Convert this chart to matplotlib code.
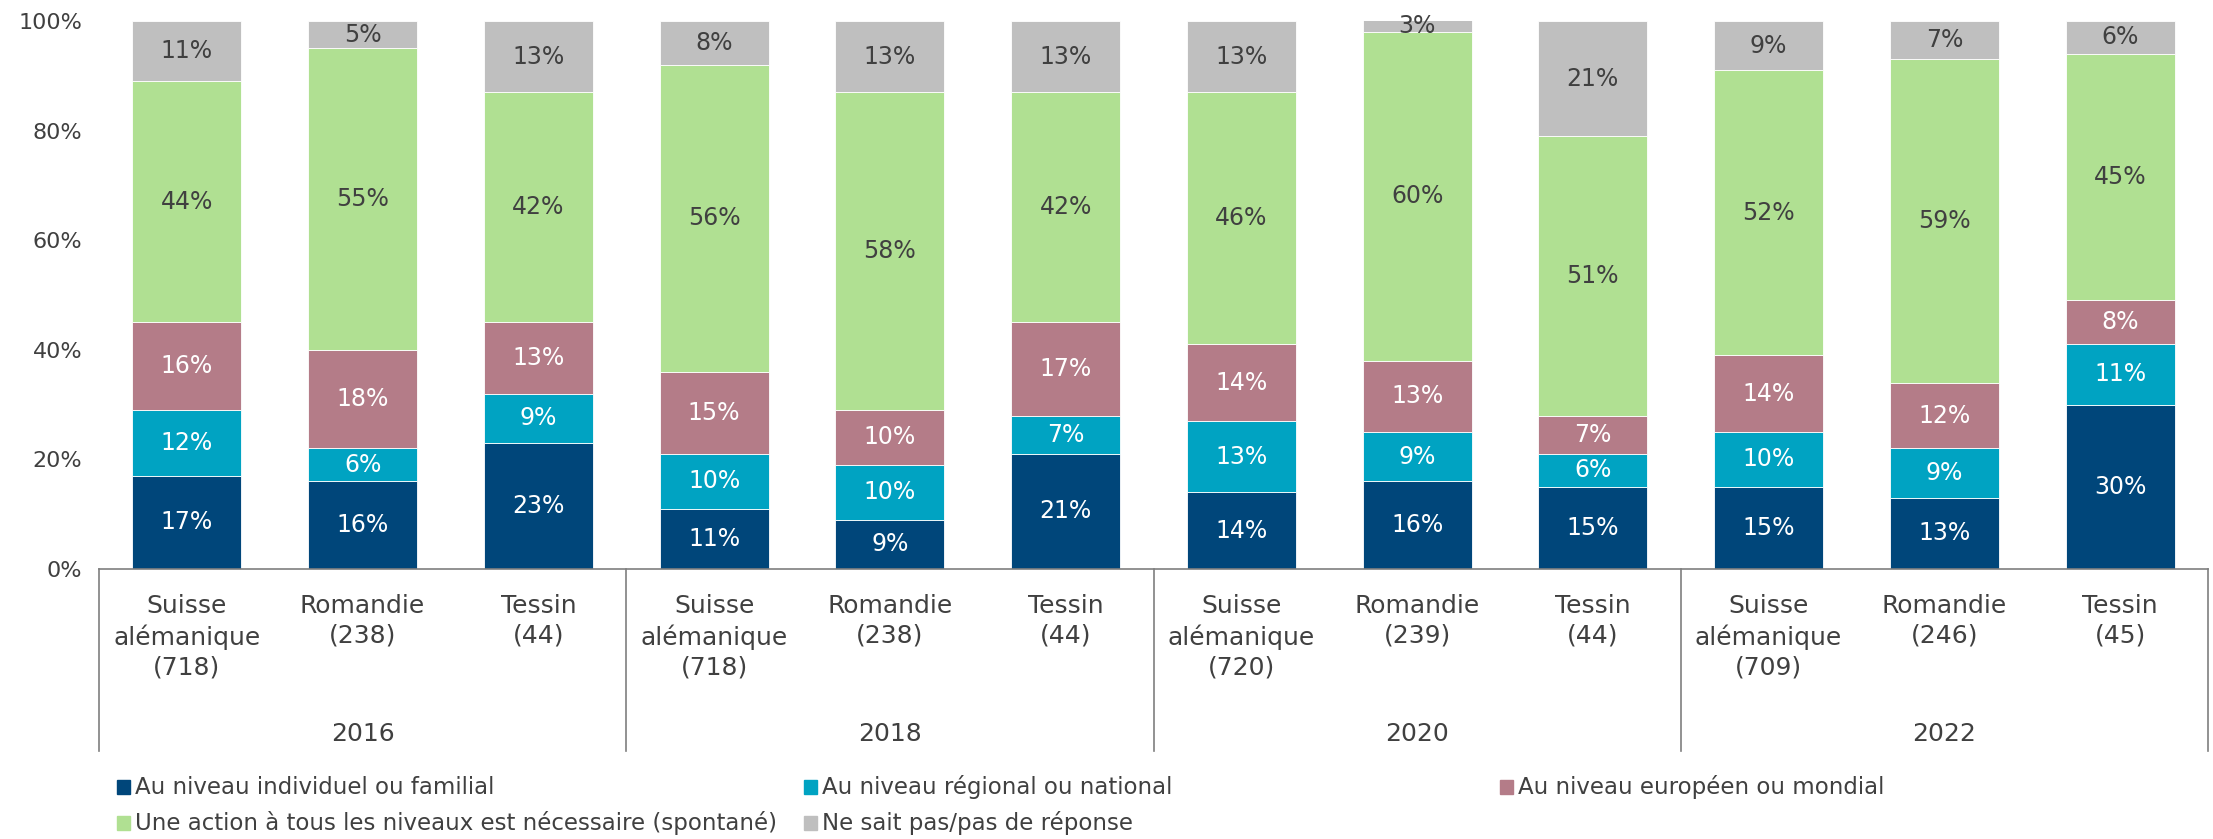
import numpy as np
import matplotlib.pyplot as plt
from matplotlib.patches import Rectangle
from matplotlib.transforms import blended_transform_factory

# catégories (région + n) et années
regions = ["Suisse\nalémanique\n(718)", "Romandie\n(238)", "Tessin\n(44)",
           "Suisse\nalémanique\n(718)", "Romandie\n(238)", "Tessin\n(44)",
           "Suisse\nalémanique\n(720)", "Romandie\n(239)", "Tessin\n(44)",
           "Suisse\nalémanique\n(709)", "Romandie\n(246)", "Tessin\n(45)"]
years = ["2016", "2018", "2020", "2022"]

# séries en %
individuel = [17, 16, 23, 11, 9, 21, 14, 16, 15, 15, 13, 30]
regional = [12, 6, 9, 10, 10, 7, 13, 9, 6, 10, 9, 11]
europeen = [16, 18, 13, 15, 10, 17, 14, 13, 7, 14, 12, 8]
tous_niveaux = [44, 55, 42, 56, 58, 42, 46, 60, 51, 52, 59, 45]
ne_sait_pas = [11, 5, 13, 8, 13, 13, 13, 3, 21, 9, 7, 6]

series = [individuel, regional, europeen, tous_niveaux, ne_sait_pas]
noms = ["Au niveau individuel ou familial",
        "Au niveau régional ou national",
        "Au niveau européen ou mondial",
        "Une action à tous les niveaux est nécessaire (spontané)",
        "Ne sait pas/pas de réponse"]
couleurs = ["#00467A", "#00A3C2", "#B47C88", "#B0E092", "#BFBFBF"]
couleurs_txt = ["white", "white", "white", "#404040", "#404040"]

gris = "#404040"
plt.rcParams['font.family'] = ['DejaVu Sans']

fig = plt.figure(figsize=(22.13, 8.39), dpi=100)
ax = fig.add_axes([99/2213, 1 - 569/839, (2208 - 99)/2213, (569 - 21)/839])

x = np.arange(len(regions))
bas = np.zeros(len(regions))
for vals, nom, c, ct in zip(series, noms, couleurs, couleurs_txt):
    bars = ax.bar(x, vals, 0.62, bottom=bas, color=c, edgecolor="white",
                  linewidth=0.6, label=nom)
    ax.bar_label(bars, labels=[f"{v}%" for v in vals], label_type="center",
                 color=ct, fontsize=17)
    bas += np.array(vals)

ax.set_xlim(-0.5, len(regions) - 0.5)
ax.set_ylim(0, 100)
ax.set_yticks(range(0, 101, 20))
ax.set_yticklabels([f"{v}%" for v in range(0, 101, 20)], fontsize=16, color=gris)
ax.tick_params(axis="y", length=0, pad=12)
ax.set_xticks([])
for s in ["top", "right", "left"]:
    ax.spines[s].set_visible(False)
ax.spines["bottom"].set_color("#7F7F7F")
ax.spines["bottom"].set_linewidth(1.2)

# boîtes des catégories sous l'axe
tr = blended_transform_factory(ax.transData, ax.transAxes)
bas_boite = -(751 - 569) / 548
for xb in np.arange(-0.5, len(regions), 3):
    ax.plot([xb, xb], [0, bas_boite], transform=tr, color="#7F7F7F",
            linewidth=1.2, clip_on=False)
for i, r in enumerate(regions):
    ax.text(i, -0.046, r, transform=tr, ha="center", va="top", fontsize=18,
            color=gris, linespacing=1.3)
for j, an in enumerate(years):
    ax.text(3 * j + 1, -(734 - 569) / 548, an, transform=tr, ha="center",
            va="center", fontsize=18, color=gris)

# légende manuelle
pos = [(117, 787), (804, 787), (1500, 787), (117, 823), (804, 823)]
for (px, py), nom, c in zip(pos, noms, couleurs):
    fig.patches.append(Rectangle((px / 2213, 1 - (py + 7) / 839), 13 / 2213, 14 / 839,
                                 transform=fig.transFigure, color=c))
    fig.text((px + 18) / 2213, 1 - py / 839, nom, ha="left", va="center",
             fontsize=16.5, color=gris)

fig.savefig("out.png", dpi=100)
